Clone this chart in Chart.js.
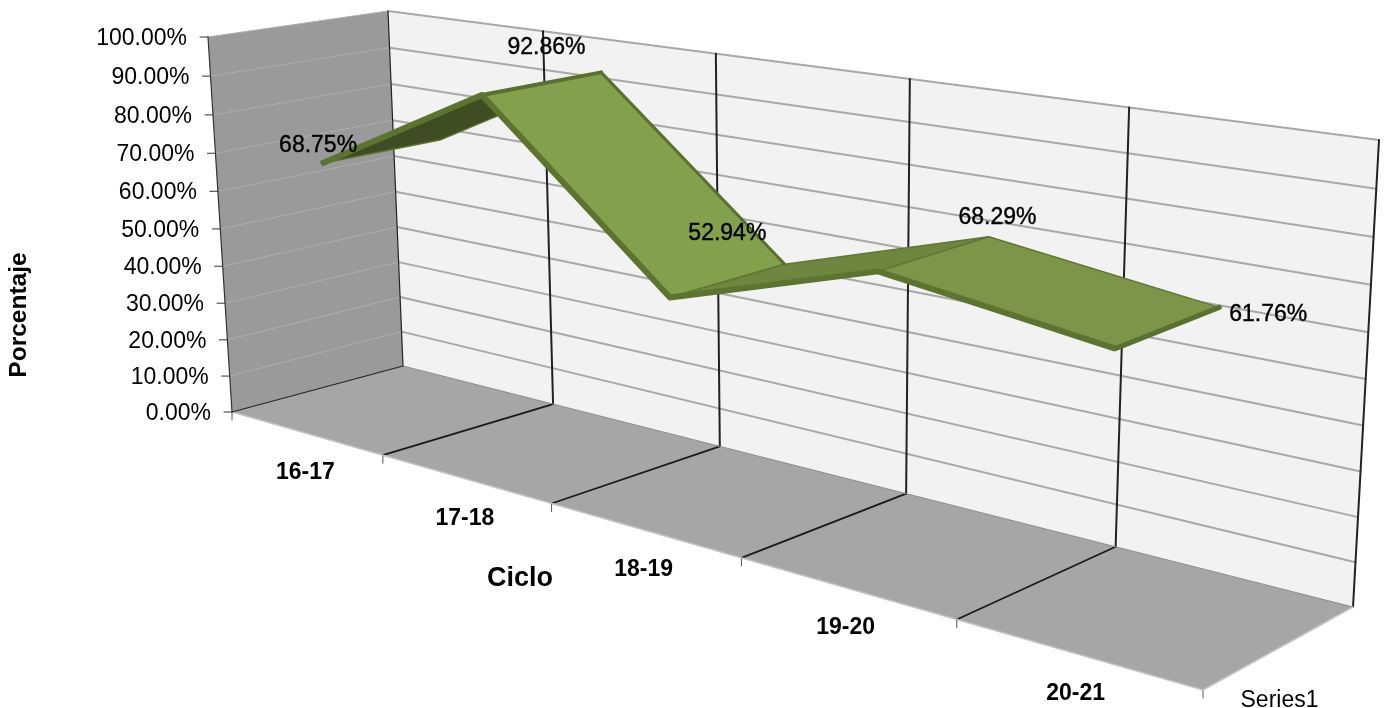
<!DOCTYPE html>
<html>
<head>
<meta charset="utf-8">
<title>Porcentaje por ciclo</title>
<script src="https://cdn.jsdelivr.net/npm/chart.js@4"></script>
<style>
  html, body { margin: 0; background: #fff; }
  canvas { display: block; }
</style>
</head>
<body>
<canvas id="chart" width="1386" height="708"></canvas>
<script>
const categories = ['16-17', '17-18', '18-19', '19-20', '20-21'];
const values = [68.75, 92.86, 52.94, 68.29, 61.76];
const seriesName = 'Series1';
const yTitle = 'Porcentaje';
const xTitle = 'Ciclo';

// box corners on screen: [x0 v0, x1 v0, x1 v1, x0 v1]
const frontBox = [[232, 412], [1203, 690], [1235, 190], [208, 37]];
const backBox = [[403, 366], [1353, 607], [1379, 140], [388, 11]];
const ribbonDepth = { front: 0.17, back: 0.85 };
const ribbonLift = 3;
const faceColors = ['#3f4d22', '#83a04c', '#6f8640', '#7d9548'];
const labelShift = [[-63, -6], [5, -36], [0, -47], [64, -36], [101, -13]];

const FONT = '"Liberation Sans", Arial, sans-serif';

// unit square -> quad
function quadMap(q, u, v) {
  const [p0, p1, p2, p3] = q;
  const sx = p0[0] - p1[0] + p2[0] - p3[0], sy = p0[1] - p1[1] + p2[1] - p3[1];
  const dx1 = p1[0] - p2[0], dx2 = p3[0] - p2[0], dy1 = p1[1] - p2[1], dy2 = p3[1] - p2[1];
  const den = dx1 * dy2 - dx2 * dy1;
  const g = (sx * dy2 - dx2 * sy) / den, h = (dx1 * sy - sx * dy1) / den;
  const a = p1[0] - p0[0] + g * p1[0], b = p3[0] - p0[0] + h * p3[0];
  const d = p1[1] - p0[1] + g * p1[1], e = p3[1] - p0[1] + h * p3[1];
  const w = g * u + h * v + 1;
  return [(a * u + b * v + p0[0]) / w, (d * u + e * v + p0[1]) / w];
}

// chart pixel + depth -> perspective pixel
function project(chart, px, py, depth) {
  const ca = chart.chartArea;
  const u = (px - ca.left) / (ca.right - ca.left);
  const v = (ca.bottom - py) / (ca.bottom - ca.top);
  const f = quadMap(frontBox, u, v), b = quadMap(backBox, u, v);
  return [f[0] + (b[0] - f[0]) * depth, f[1] + (b[1] - f[1]) * depth];
}

function poly(ctx, pts) {
  ctx.beginPath();
  pts.forEach((p, i) => i ? ctx.lineTo(p[0], p[1]) : ctx.moveTo(p[0], p[1]));
}
function seg(ctx, a, b, color, width) {
  ctx.strokeStyle = color;
  ctx.lineWidth = width;
  poly(ctx, [a, b]);
  ctx.stroke();
}

const perspective = {
  id: 'perspective',
  afterDatasetsUpdate(chart) {
    chart.data.datasets.forEach((ds, i) => {
      chart.getDatasetMeta(i).data.forEach(pt => {
        const p = project(chart, pt.x, pt.y, ds.depth);
        pt.x = p[0];
        pt.y = p[1] - ribbonLift;
      });
    });
  },
  beforeDatasetsDraw(chart) {
    const ctx = chart.ctx, ca = chart.chartArea, y = chart.scales.y;
    const L = ca.left, R = ca.right, T = ca.top, B = ca.bottom;
    const edgeX = i => L + (R - L) * i / categories.length;
    ctx.save();
    ctx.lineCap = 'round';

    // walls
    ctx.fillStyle = '#f2f2f2';
    poly(ctx, [[L, B], [R, B], [R, T], [L, T]].map(p => project(chart, p[0], p[1], 1)));
    ctx.fill();
    ctx.fillStyle = '#9a9a9a';
    poly(ctx, [project(chart, L, B, 0), project(chart, L, B, 1), project(chart, L, T, 1), project(chart, L, T, 0)]);
    ctx.fill();
    ctx.fillStyle = '#a6a6a6';
    poly(ctx, [project(chart, L, B, 0), project(chart, R, B, 0), project(chart, R, B, 1), project(chart, L, B, 1)]);
    ctx.fill();

    // value gridlines + axis ticks
    y.ticks.forEach((t, i) => {
      const py = y.getPixelForTick(i);
      if (t.value > 0) {
        seg(ctx, project(chart, L, py, 1), project(chart, R, py, 1), '#a8a8a8', 2);
        seg(ctx, project(chart, L, py, 0), project(chart, L, py, 1), '#adadad', 1);
      }
      const a = project(chart, L, py, 0);
      seg(ctx, a, [a[0] - 8, a[1]], '#333', 1);
    });

    // category dividers
    for (let i = 0; i <= categories.length; i++) {
      const top = project(chart, edgeX(i), T, 1), foot = project(chart, edgeX(i), B, 1), front = project(chart, edgeX(i), B, 0);
      seg(ctx, foot, top, '#222', i === 0 ? 1.2 : 2);
      if (i > 0 && i < categories.length) seg(ctx, front, foot, '#1a1a1a', 1.8);
      seg(ctx, front, [front[0], front[1] + 8], '#555', 1);
    }
    seg(ctx, project(chart, L, B, 1), project(chart, R, B, 1), '#8c8c8c', 1);
    seg(ctx, project(chart, L, B, 0), project(chart, R, B, 0), '#c4c4c4', 1.5);
    seg(ctx, project(chart, R, B, 0), project(chart, R, B, 1), '#c4c4c4', 1.5);
    seg(ctx, project(chart, L, B, 0), project(chart, L, T, 0), '#333', 1.2);
    seg(ctx, project(chart, L, B, 0), project(chart, L, B, 1), '#222', 1.2);

    // ribbon faces, from the dataset points
    const front = chart.getDatasetMeta(0).data, back = chart.getDatasetMeta(1).data;
    ctx.lineJoin = 'round';
    faceColors.forEach((color, i) => {
      poly(ctx, [front[i], front[i + 1], back[i + 1], back[i]].map(p => [p.x, p.y]));
      ctx.closePath();
      ctx.fillStyle = color;
      ctx.fill();
      ctx.strokeStyle = i === 0 ? '#5c7430' : '#5f7733';
      ctx.lineWidth = 1.5;
      ctx.stroke();
    });
    seg(ctx, [front[1].x, front[1].y], [back[1].x, back[1].y], '#5a7030', 4);
    seg(ctx, [back[1].x, back[1].y], [back[2].x, back[2].y], '#5a7030', 3);
    seg(ctx, [front[4].x, front[4].y], [back[4].x, back[4].y], '#5a7030', 5);
    ctx.restore();
  },
  afterDatasetsDraw(chart) {
    const ctx = chart.ctx, ca = chart.chartArea, x = chart.scales.x, y = chart.scales.y;
    const front = chart.getDatasetMeta(0).data, back = chart.getDatasetMeta(1).data;
    ctx.save();
    ctx.fillStyle = '#000';
    ctx.strokeStyle = '#000';
    ctx.textBaseline = 'middle';

    // value axis labels
    ctx.font = '23px ' + FONT;
    ctx.textAlign = 'right';
    y.ticks.forEach((t, i) => {
      const a = project(chart, ca.left, y.getPixelForTick(i), 0);
      ctx.fillText(t.label, a[0] - 21, a[1] + 1.5);
    });

    // category labels
    ctx.font = 'bold 23px ' + FONT;
    ctx.textAlign = 'center';
    x.ticks.forEach((t, i) => {
      const a = project(chart, x.getPixelForTick(i), ca.bottom, 0);
      ctx.fillText(t.label, a[0], a[1] + 40);
    });

    // point labels
    ctx.font = '23px ' + FONT;
    ctx.lineWidth = 0.4;
    values.forEach((v, i) => {
      const mx = (front[i].x + back[i].x) / 2, my = (front[i].y + back[i].y) / 2;
      const txt = v.toFixed(2) + '%';
      ctx.fillText(txt, mx + labelShift[i][0], my + labelShift[i][1]);
      ctx.strokeText(txt, mx + labelShift[i][0], my + labelShift[i][1]);
    });

    // series name on the depth axis
    const s = project(chart, ca.right, ca.bottom, 0.25);
    ctx.textAlign = 'left';
    ctx.fillText(seriesName, s[0], s[1] + 31);

    // axis titles
    ctx.font = 'bold 27px ' + FONT;
    ctx.textAlign = 'center';
    ctx.fillText(xTitle, 520, 579);
    ctx.font = 'bold 24.5px ' + FONT;
    ctx.translate(19, 315);
    ctx.rotate(-Math.PI / 2);
    ctx.fillText(yTitle, 0, 0);
    ctx.restore();
  }
};

new Chart(document.getElementById('chart'), {
  type: 'line',
  data: {
    labels: categories,
    datasets: [
      { label: seriesName, data: values, depth: ribbonDepth.front, borderColor: '#5c7430', borderWidth: 6, pointRadius: 0, tension: 0, borderJoinStyle: 'round' },
      { label: seriesName + ' back', data: values, depth: ribbonDepth.back, showLine: false, borderColor: '#5c7430', pointRadius: 0 }
    ]
  },
  options: {
    responsive: false,
    animation: false,
    layout: { padding: 0 },
    plugins: { legend: { display: false }, tooltip: { enabled: false } },
    scales: {
      x: { display: false, offset: true },
      y: { display: false, min: 0, max: 100, ticks: { stepSize: 10, callback: v => v.toFixed(2) + '%' } }
    }
  },
  plugins: [perspective]
});
</script>
</body>
</html>
